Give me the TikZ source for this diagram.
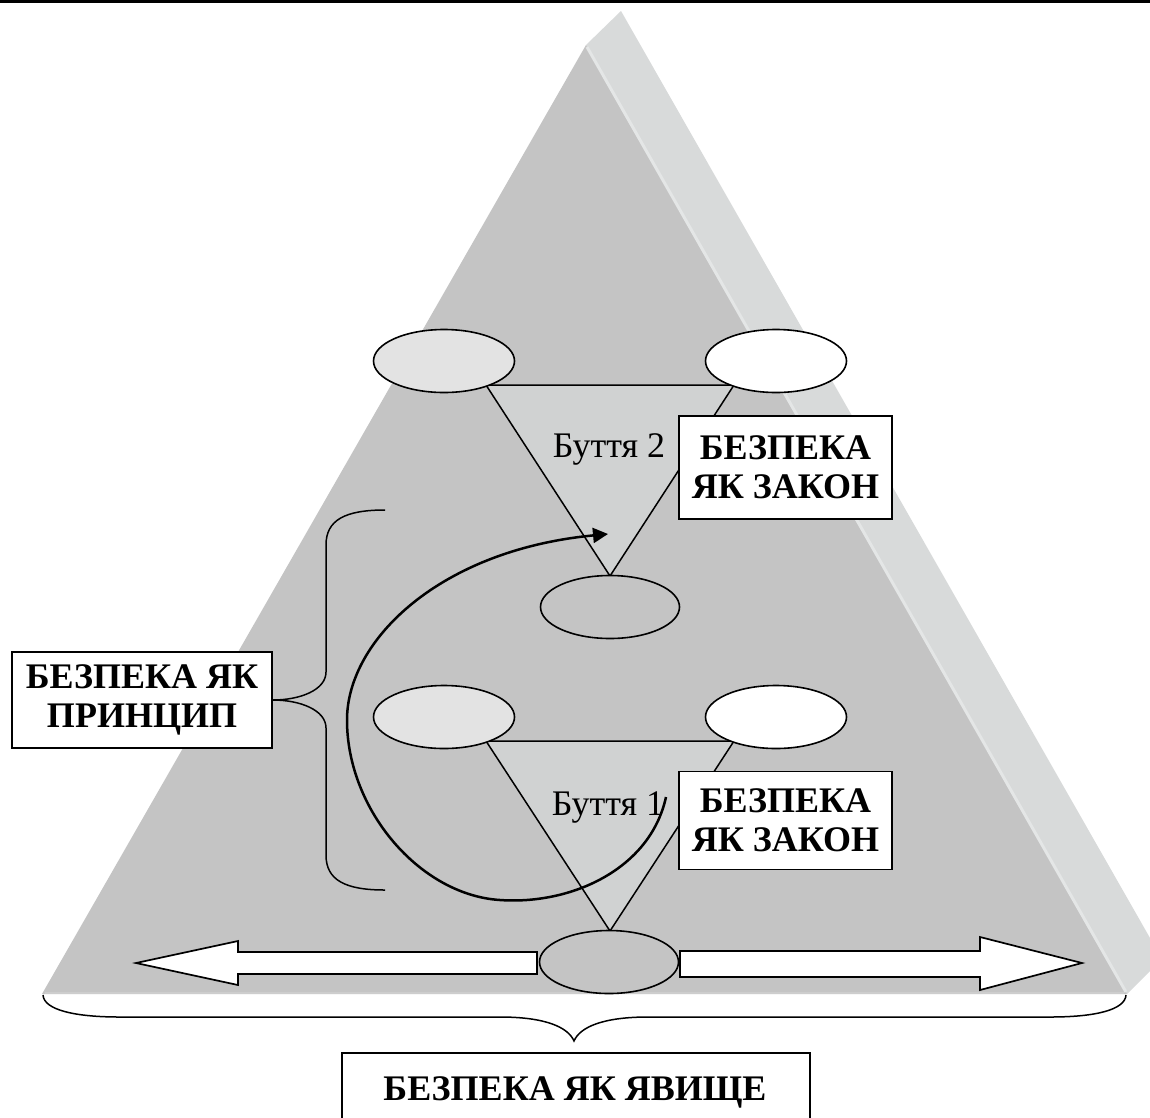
\documentclass[tikz,border=0pt]{standalone}
\usepackage{fontspec}
\setmainfont{Liberation Serif}
\usetikzlibrary{shapes.geometric,arrows.meta}
\definecolor{pyr}{HTML}{C4C4C4}
\definecolor{side}{HTML}{D8DADA}
\definecolor{hl}{HTML}{E4E6E6}
\definecolor{inner}{HTML}{D0D2D2}
\definecolor{lell}{HTML}{E3E3E3}
\definecolor{baseband}{HTML}{CDCDCD}
\begin{document}
\begin{tikzpicture}[x=1pt,y=-1pt,
  oval/.style={ellipse, draw, line width=1.6pt, minimum width=141pt, minimum height=63pt, inner sep=0pt},
  ovl/.style={oval, fill=lell},
  ovr/.style={oval, fill=white},
  ovb/.style={oval, fill=pyr, minimum width=139pt},
  tri/.style={fill=inner, draw, line width=1.5pt, line join=miter},
  label box/.style={draw, fill=white, line width=1.7pt, inner sep=0pt, align=center, font=\bfseries\fontsize{36}{39}\selectfont},
  being/.style={font=\fontsize{36}{40}\selectfont, inner sep=0pt, anchor=base},
  brace/.style={line width=1.5pt},
  flow/.style={line width=2.5pt, -{Triangle[length=15pt,width=15pt]}},
  fat arrow/.style={draw, fill=white, line width=1.7pt, line join=miter}
]
\useasboundingbox (0,0) rectangle (1150,1117);
\fill[white] (0,0) rectangle (1150,1117);
\begin{scope}
\clip (0,0) rectangle (1150,1117);
% top rule
\fill[black] (0,0) rectangle (1150,2.5);
% pyramid side and face
\fill[side] (586,45) -- (621,11) -- (1162,959) -- (1127,994) -- cycle;
\fill[pyr] (586,45) -- (1127,994) -- (42,994) -- cycle;
\draw[hl, line width=3pt] (587,47) -- (1126,992);
\draw[baseband, line width=2pt] (45,993) -- (1124,993);

% upper group
\coordinate (a2) at (486,385);
\coordinate (b2) at (734,385);
\coordinate (c2) at (610,576);
\filldraw[tri] (a2) -- (b2) -- (c2) -- cycle;
\node[ovl] (l2) at (444,361) {};
\node[ovr] (r2) at (776,361) {};
\node[ovb] (d2) at (610,607) {};
\node[being] (t2) at (609,457) {Буття 2};
\node[label box, minimum width=213pt, minimum height=103pt] (law2) at (785.5,467.5) {БЕЗПЕКА\\ЯК ЗАКОН};

% lower group
\coordinate (a1) at (486,741);
\coordinate (b1) at (734,741);
\coordinate (c1) at (610,931);
\filldraw[tri] (a1) -- (b1) -- (c1) -- cycle;
\node[ovl] (l1) at (444,717) {};
\node[ovr] (r1) at (776,717) {};
\node[being] (t1) at (608,815) {Буття 1};
\node[label box, minimum width=213pt, minimum height=98pt] (law1) at (785.5,820.5) {БЕЗПЕКА\\ЯК ЗАКОН};

% wide arrows and base ellipse
\draw[fat arrow] (537,952) -- (238,952) -- (238,941) -- (136,963) -- (238,985) -- (238,974) -- (537,974) -- cycle;
\draw[fat arrow] (680,951) -- (980,951) -- (980,937) -- (1082,963) -- (980,990) -- (980,977) -- (680,977) -- cycle;
\node[ovb] (d1) at (609,962) {};

% curved arrow
\coordinate (cs) at (666,797);
\coordinate (ce) at (608,534);
\draw[flow] (cs) .. controls (650,870) and (570,905) .. (500,900)
  .. controls (420,895) and (347,810) .. (347,720)
  .. controls (347,640) and (440,550) .. (ce);

% principle box and brace
\node[label box, minimum width=260pt, minimum height=96pt] (pr) at (142,700) {БЕЗПЕКА ЯК\\ПРИНЦИП};
\draw[brace] (pr.east) .. controls (300,700) and (326,690) .. (326,672) -- (326,545)
  .. controls (326,520) and (345,510) .. (385,510);
\draw[brace] (pr.east) .. controls (300,700) and (326,710) .. (326,728) -- (326,855)
  .. controls (326,880) and (345,890) .. (385,890);

% bottom brace and phenomenon box
\coordinate (bl) at (43,995);
\coordinate (br) at (1126,995);
\draw[brace] (bl) .. controls (44,1010) and (75,1017) .. (120,1017) -- (500,1017)
  .. controls (545,1017) and (568,1027) .. (574,1041)
  .. controls (580,1027) and (603,1017) .. (648,1017) -- (1050,1017)
  .. controls (1095,1017) and (1125,1010) .. (br);
\node[draw, fill=white, line width=1.7pt, minimum width=468pt, minimum height=100pt, anchor=north west, inner sep=0pt] (yavbox) at (341,1052) {};
\node[being, font=\bfseries\fontsize{36}{40}\selectfont] (yav) at (575,1100) {БЕЗПЕКА ЯК ЯВИЩЕ};
\end{scope}
\end{tikzpicture}
\end{document}
